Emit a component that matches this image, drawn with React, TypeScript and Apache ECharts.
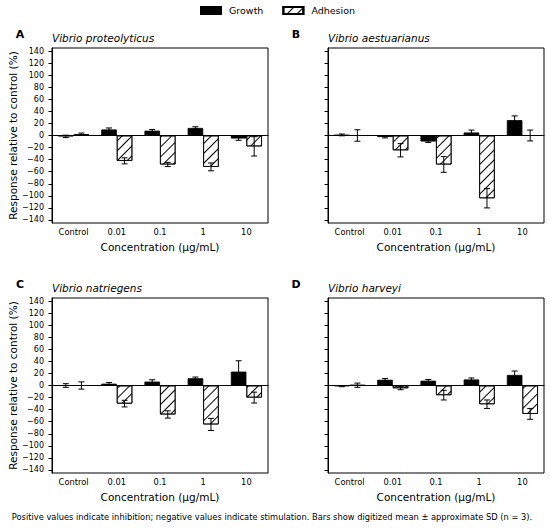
import React, { useEffect, useRef } from "react";
import * as echarts from "echarts";

const categories = ["Control", "0.01", "0.1", "1", "10"];
const yTicks = [-140, -120, -100, -80, -60, -40, -20, 0, 20, 40, 60, 80, 100, 120, 140];

const panelLetters = ["A", "B", "C", "D"];
const panelTitles = ["Vibrio proteolyticus", "Vibrio aestuarianus", "Vibrio natriegens", "Vibrio harveyi"];

const growthA = [-1.5, 10, 8, 12.5, -5];
const growthSdA = [2, 2.5, 2, 2, 3];
const adhesionA = [2, -42, -48, -52, -18];
const adhesionSdA = [2, 5, 3.5, 6.5, 16];

const growthB = [1, -2.5, -10, 5, 25.5];
const growthSdB = [1.5, 1.5, 1.5, 4, 7];
const adhesionB = [0, -24.5, -48, -104, 0];
const adhesionSdB = [9.5, 11, 13, 16, 9];

const growthC = [0, 3, 6.5, 12, 23];
const growthSdC = [3, 2, 3, 2, 18];
const adhesionC = [0, -30, -48, -64.5, -20];
const adhesionSdC = [6, 5.5, 6, 10, 9];

const growthD = [-1, 9.5, 8, 10, 17.5];
const growthSdD = [1, 2, 2, 2.5, 6.5];
const adhesionD = [0.5, -4.5, -16, -31, -47];
const adhesionSdD = [3.5, 2.5, 8, 7, 9];

const panels = [
  { g: growthA, gs: growthSdA, a: adhesionA, as: adhesionSdA },
  { g: growthB, gs: growthSdB, a: adhesionB, as: adhesionSdB },
  { g: growthC, gs: growthSdC, a: adhesionC, as: adhesionSdC },
  { g: growthD, gs: growthSdD, a: adhesionD, as: adhesionSdD },
];

const caption =
  "Positive values indicate inhibition; negative values indicate stimulation. Bars show digitized mean \u00b1 approximate SD (n = 3).";

const FONT = "DejaVu Sans";

export default function App() {
  const ref = useRef<HTMLDivElement>(null);
  useEffect(() => {
    document.body.style.margin = "0";
    if (!ref.current) return;
    const chart = echarts.init(ref.current, null, { renderer: "svg" });

    const gridPos = [
      { left: 52, top: 48 },
      { left: 328, top: 48 },
      { left: 52, top: 298 },
      { left: 328, top: 298 },
    ];
    const grids = gridPos.map((p) => ({
      left: p.left,
      top: p.top,
      width: 216,
      height: 175,
      show: true,
      borderColor: "#000",
      borderWidth: 1,
      backgroundColor: "transparent",
      containLabel: false,
    }));

    const fmt = (v: number) => (v < 0 ? "\u2212" + Math.abs(v) : String(v));

    const xAxes = grids.map((_, i) => ({
      type: "category",
      gridIndex: i,
      data: categories,
      axisLine: { lineStyle: { color: "#000", width: 1 } },
      axisTick: { alignWithLabel: true, length: 3.5, lineStyle: { color: "#000" } },
      axisLabel: { color: "#000", fontSize: 8.3, fontFamily: FONT, margin: 5 },
      name: "Concentration (\u00b5g/mL)",
      nameLocation: "middle",
      nameGap: 18,
      nameTextStyle: { color: "#000", fontSize: 10.5, fontFamily: FONT },
    }));

    const yAxes = grids.map((_, i) => ({
      type: "value",
      gridIndex: i,
      min: -145,
      max: 145,
      splitLine: { show: false },
      axisLine: { show: true, lineStyle: { color: "#000", width: 1 } },
      axisTick: { show: true, length: 3.5, lineStyle: { color: "#000" }, customValues: yTicks },
      axisLabel: {
        show: i % 2 === 0,
        color: "#000",
        fontSize: 8,
        fontFamily: FONT,
        margin: 8,
        customValues: yTicks,
        formatter: fmt,
      },
      name: i % 2 === 0 ? "Response relative to control (%)" : "",
      nameLocation: "middle",
      nameGap: 34,
      nameTextStyle: { color: "#000", fontSize: 10.5, fontFamily: FONT },
    }));

    const hatch = {
      symbol: "rect",
      symbolSize: 1,
      color: "#000",
      backgroundColor: "#fff",
      dashArrayX: [1, 0],
      dashArrayY: [1, 6],
      rotation: -Math.PI / 4,
    };

    const errRender = (sign: number) => (params: any, api: any) => {
      const idx = api.value(0);
      const v = api.value(1);
      const sd = api.value(2);
      const band = api.size([1, 0])[0];
      const cx = api.coord([idx, 0])[0] + sign * band * 0.18;
      const yt = api.coord([idx, v + sd])[1];
      const yb = api.coord([idx, v - sd])[1];
      const cap = 3;
      const st = { stroke: "#000", lineWidth: 1 };
      return {
        type: "group",
        children: [
          { type: "line", shape: { x1: cx, y1: yt, x2: cx, y2: yb }, style: st },
          { type: "line", shape: { x1: cx - cap, y1: yt, x2: cx + cap, y2: yt }, style: st },
          { type: "line", shape: { x1: cx - cap, y1: yb, x2: cx + cap, y2: yb }, style: st },
        ],
      };
    };

    const series: any[] = [];
    panels.forEach((p, i) => {
      series.push({
        name: "Growth",
        type: "bar",
        xAxisIndex: i,
        yAxisIndex: i,
        data: p.g,
        barWidth: "36%",
        barGap: "0%",
        itemStyle: { color: "#000", borderColor: "#000", borderWidth: 0.8 },
        markLine: {
          silent: true,
          symbol: "none",
          label: { show: false },
          lineStyle: { color: "#000", type: "solid", width: 1 },
          data: [{ yAxis: 0 }],
        },
        z: 2,
      });
      series.push({
        name: "Adhesion",
        type: "bar",
        xAxisIndex: i,
        yAxisIndex: i,
        data: p.a,
        barWidth: "36%",
        barGap: "0%",
        itemStyle: { color: "#fff", borderColor: "#000", borderWidth: 0.8, decal: hatch },
        z: 2,
      });
      series.push({
        type: "custom",
        xAxisIndex: i,
        yAxisIndex: i,
        data: p.g.map((v, k) => [k, v, p.gs[k]]),
        renderItem: errRender(-1),
        z: 5,
        silent: true,
      });
      series.push({
        type: "custom",
        xAxisIndex: i,
        yAxisIndex: i,
        data: p.a.map((v, k) => [k, v, p.as[k]]),
        renderItem: errRender(1),
        z: 5,
        silent: true,
      });
    });

    const graphics: any[] = [];
    gridPos.forEach((p, i) => {
      graphics.push({
        type: "text",
        x: p.left - 32,
        y: p.top - 14,
        style: {
          text: panelLetters[i],
          fontSize: 11,
          fontWeight: "bold",
          fontFamily: FONT,
          fill: "#000",
          textAlign: "center",
          textVerticalAlign: "middle",
        },
      });
      graphics.push({
        type: "text",
        x: p.left,
        y: p.top - 10,
        style: {
          text: panelTitles[i],
          fontSize: 10.5,
          fontStyle: "italic",
          fontFamily: FONT,
          fill: "#000",
          textAlign: "left",
          textVerticalAlign: "middle",
        },
      });
    });
    graphics.push({
      type: "text",
      x: 272,
      y: 517,
      style: {
        text: caption,
        fontSize: 8.3,
        fontFamily: FONT,
        fill: "#000",
        textAlign: "center",
        textVerticalAlign: "middle",
      },
    });

    chart.setOption({
      animation: false,
      backgroundColor: "#fff",
      legend: {
        data: ["Growth", "Adhesion"],
        left: 200,
        top: 5.5,
        padding: 0,
        itemWidth: 20,
        itemHeight: 7,
        itemGap: 19,
        icon: "rect",
        textStyle: { color: "#000", fontSize: 9.5, fontFamily: FONT, padding: [0, 0, 0, 3] },
        selectedMode: false,
      },
      grid: grids,
      xAxis: xAxes,
      yAxis: yAxes,
      series,
      graphic: graphics,
    });
    return () => chart.dispose();
  }, []);
  return <div ref={ref} style={{ width: 550, height: 528 }} />;
}
